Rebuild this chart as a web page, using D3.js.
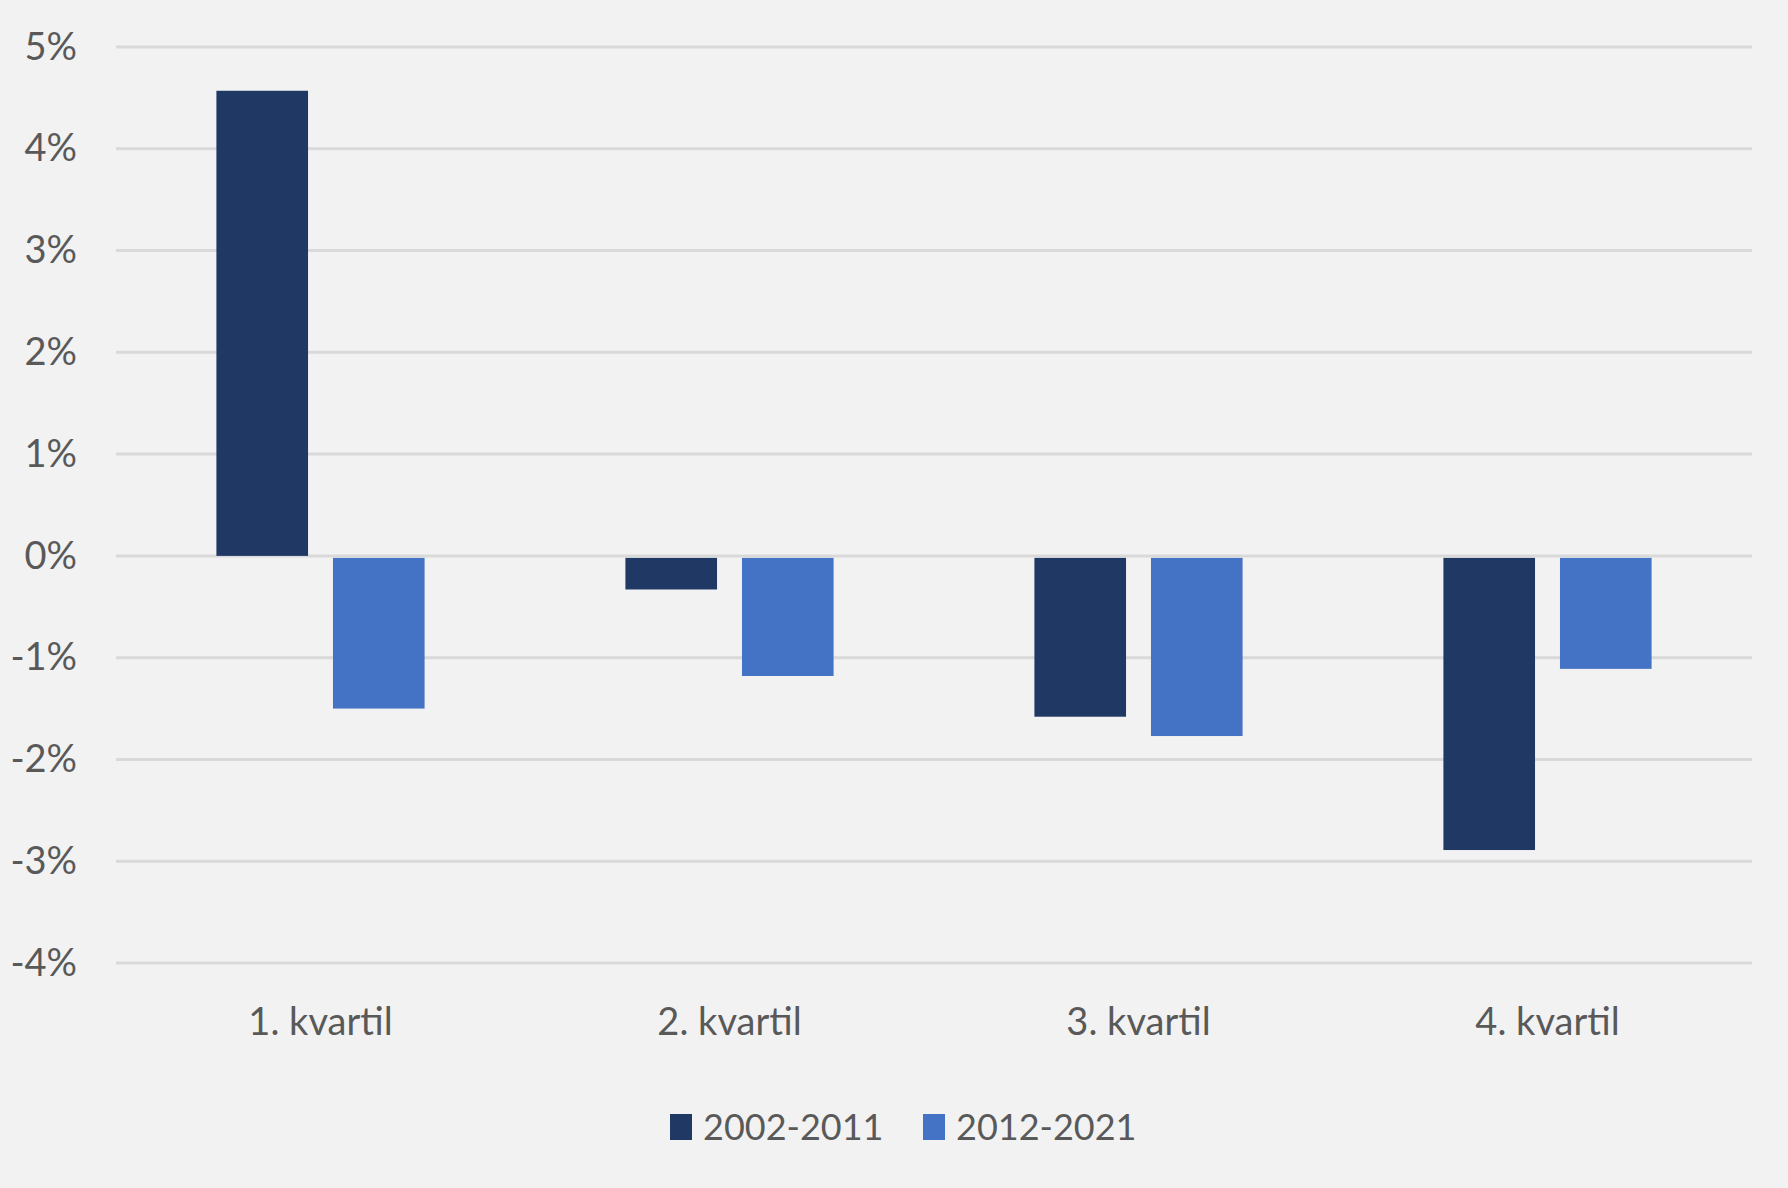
<!DOCTYPE html>
<html>
<head>
<meta charset="utf-8">
<script src="https://cdn.jsdelivr.net/npm/d3@7"></script>
<style>
  body { margin: 0; background: #f2f2f2; }
  svg { display: block; }
</style>
</head>
<body>
<svg id="chart"></svg>
<script>
// chart data
var categories = ['1. kvartil', '2. kvartil', '3. kvartil', '4. kvartil'];
var seriesNames = ['2002-2011', '2012-2021'];
var values2002 = [0.0457, -0.0033, -0.0158, -0.0289];
var values2012 = [-0.0150, -0.0118, -0.0177, -0.0111];
var yTicks = [0.05, 0.04, 0.03, 0.02, 0.01, 0, -0.01, -0.02, -0.03, -0.04];
var colors = ['#203864', '#4472c4'];

var width = 1788;
var height = 1188;
var margin = { top: 47, right: 36, bottom: 225, left: 116 };

var svg = d3.select('#chart')
    .attr('width', width)
    .attr('height', height);

svg.append('rect')
    .attr('width', width)
    .attr('height', height)
    .attr('fill', '#f2f2f2');

var y = d3.scaleLinear()
    .domain([-0.04, 0.05])
    .range([height - margin.bottom, margin.top]);

var x0 = d3.scaleBand()
    .domain(categories)
    .range([margin.left, width - margin.right])
    .paddingInner(0.491)
    .paddingOuter(0.2455);

var x1 = d3.scaleBand()
    .domain(seriesNames)
    .range([0, x0.bandwidth()])
    .paddingInner(0.214);

var font = 'Lato, Calibri, sans-serif';

// gridlines
svg.append('g')
    .selectAll('line')
    .data(yTicks)
    .enter()
    .append('line')
    .attr('x1', margin.left)
    .attr('x2', width - margin.right)
    .attr('y1', function (d) { return y(d); })
    .attr('y2', function (d) { return y(d); })
    .attr('stroke', '#d9d9d9')
    .attr('stroke-width', 3);

// y axis labels
var yAxis = d3.axisLeft(y)
    .tickValues(yTicks)
    .tickFormat(d3.format('.0%'))
    .tickSize(0)
    .tickPadding(0);

var yg = svg.append('g')
    .attr('transform', 'translate(77,0)')
    .call(yAxis);
yg.select('.domain').remove();
yg.selectAll('text')
    .attr('font-family', font)
    .attr('font-size', 38)
    .attr('fill', '#595959')
    .text(function (d) { return d3.format('.0%')(d).replace('−', '-'); });

// bars
var rows = categories.map(function (c, i) {
    return { cat: c, vals: [values2002[i], values2012[i]] };
});

var groups = svg.append('g')
    .selectAll('g')
    .data(rows)
    .enter()
    .append('g')
    .attr('transform', function (d) { return 'translate(' + x0(d.cat) + ',0)'; });

groups.selectAll('rect')
    .data(function (d) {
        return d.vals.map(function (v, j) { return { name: seriesNames[j], value: v, j: j }; });
    })
    .enter()
    .append('rect')
    .attr('x', function (d) { return x1(d.name); })
    .attr('width', x1.bandwidth())
    .attr('y', function (d) { return d.value >= 0 ? y(d.value) : y(0) + 2; })
    .attr('height', function (d) { return Math.abs(y(d.value) - y(0)) - (d.value >= 0 ? 0 : 2); })
    .attr('fill', function (d) { return colors[d.j]; });

// x axis labels
var xAxis = d3.axisBottom(x0).tickSize(0).tickPadding(0);
var xg = svg.append('g')
    .attr('transform', 'translate(0,1035)')
    .call(xAxis);
xg.select('.domain').remove();
xg.selectAll('text')
    .attr('dy', 0)
    .attr('font-family', font)
    .attr('font-size', 38)
    .attr('fill', '#595959');

// legend
var legend = svg.append('g')
    .attr('transform', 'translate(670,1127)');

var legendX = [0, 253];
var items = legend.selectAll('g')
    .data(seriesNames)
    .enter()
    .append('g')
    .attr('transform', function (d, i) { return 'translate(' + legendX[i] + ',0)'; });

items.append('rect')
    .attr('x', 0)
    .attr('y', -13)
    .attr('width', 22)
    .attr('height', 26)
    .attr('fill', function (d, i) { return colors[i]; });

items.append('text')
    .attr('x', 33)
    .attr('y', 0)
    .attr('dy', '0.36em')
    .attr('font-family', font)
    .attr('font-size', 36)
    .attr('fill', '#595959')
    .text(function (d) { return d; });
</script>
</body>
</html>
